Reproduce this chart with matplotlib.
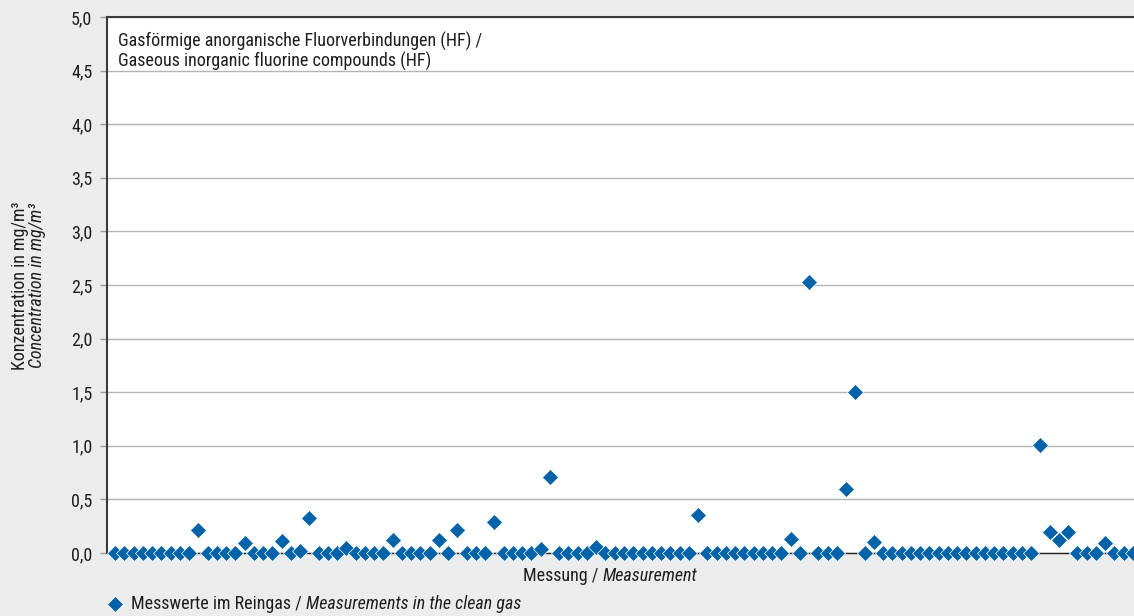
import numpy as np
import matplotlib
matplotlib.use("Agg")
import matplotlib.pyplot as plt
from matplotlib import font_manager as fm
from matplotlib.lines import Line2D

# ---------------- data ----------------
values = [
    0, 0, 0, 0, 0, 0, 0, 0, 0, 0.21,
    0, 0, 0, 0, 0.09, 0, 0, 0, 0.11, 0,
    0.02, 0.33, 0, 0, 0, 0.05, 0, 0, 0, 0,
    0.12, 0, 0, 0, 0, 0.12, 0, 0.21, 0, 0,
    0, 0.29, 0, 0, 0, 0, 0.04, 0.71, 0, 0,
    0, 0, 0.06, 0, 0, 0, 0, 0, 0, 0,
    0, 0, 0, 0.35, 0, 0, 0, 0, 0, 0,
    0, 0, 0, 0.13, 0, 2.53, 0, 0, 0, 0.60,
    1.50, 0, 0.10, 0, 0, 0, 0, 0, 0, 0,
    0, 0, 0, 0, 0, 0, 0, 0, 0, 0,
    1.01, 0.20, 0.12, 0.20, 0, 0, 0, 0.09, 0, 0,
    0,
]
y_ticks = [0.0, 0.5, 1.0, 1.5, 2.0, 2.5, 3.0, 3.5, 4.0, 4.5, 5.0]
y_tick_labels = ["0,0", "0,5", "1,0", "1,5", "2,0", "2,5", "3,0", "3,5", "4,0", "4,5", "5,0"]
title_lines = ["Gasförmige anorganische Fluorverbindungen (HF) /",
               "Gaseous inorganic fluorine compounds (HF)"]
ylabel_de = "Konzentration in mg/m³"
ylabel_en = "Concentration in mg/m³"
xlabel_de = "Messung / "
xlabel_en = "Measurement"
legend_de = "Messwerte im Reingas / "
legend_en = "Measurements in the clean gas"

# ---------------- font ----------------
available = {f.name for f in fm.fontManager.ttflist}
family = "DejaVu Sans"
for cand in ["Liberation Sans Narrow", "Roboto Condensed", "Open Sans Condensed",
             "DejaVu Sans Condensed", "Liberation Sans"]:
    if cand in available:
        family = cand
        break
plt.rcParams["font.family"] = [family, "DejaVu Sans"]

BLUE = "#0062A8"
BG = "#EBECEB"
TXT = "#1e1e1e"
FS = 13
MS = 7.8

W, H = 1134, 616
fig = plt.figure(figsize=(W / 100, H / 100), dpi=100, facecolor=BG)

ax_left, ax_right = 107, 1134
ax_top, ax_bottom = 17, 553
ax = fig.add_axes([ax_left / W, 1 - ax_bottom / H, (ax_right - ax_left) / W, (ax_bottom - ax_top) / H])
ax.set_facecolor("white")

x = np.arange(len(values))
ax.plot(x, values, linestyle="none", marker="D", markersize=MS, color=BLUE,
        markeredgecolor="white", markeredgewidth=0.5, clip_on=False, zorder=4)

step = 9.255
ax.set_xlim(-(115 - ax_left) / step, (len(values) - 1) + (ax_right - 1133) / step)
ax.set_ylim(0, 5.0)
ax.set_yticks(y_ticks)
ax.set_yticklabels(y_tick_labels, fontsize=FS, color=TXT)
ax.set_xticks([])
ax.tick_params(axis="y", length=5, width=1.0, color="#9a9a9a", pad=5.5)
ax.grid(axis="y", color="#b4b4b4", linewidth=1.0)
ax.set_axisbelow(True)

ax.spines["right"].set_visible(False)
ax.spines["left"].set_color("#3a3a3a")
ax.spines["left"].set_linewidth(1.5)
ax.spines["top"].set_color("#3a3a3a")
ax.spines["top"].set_linewidth(1.5)
ax.spines["bottom"].set_color("#222222")
ax.spines["bottom"].set_linewidth(1.0)

# title inside plot
fig.text(118 / W, 1 - 46.5 / H, title_lines[0], fontsize=FS, color=TXT, va="baseline", ha="left")
fig.text(118 / W, 1 - 66.5 / H, title_lines[1], fontsize=FS, color=TXT, va="baseline", ha="left")

# y label (two lines)
fig.text(20 / W, 1 - 286 / H, ylabel_de, rotation=90, fontsize=FS, color=TXT, ha="center", va="center")
fig.text(37 / W, 1 - 285 / H, ylabel_en, rotation=90, fontsize=FS, color=TXT, ha="center", va="center",
         style="italic")

# x label
xl1 = fig.text(0, 1 - 576 / H, xlabel_de, fontsize=FS, color=TXT, ha="left", va="center")
xl2 = fig.text(0, 1 - 576 / H, xlabel_en, fontsize=FS, color=TXT, ha="left", va="center", style="italic")

# legend
fig.add_artist(Line2D([115 / W], [1 - 604 / H], transform=fig.transFigure, linestyle="none",
                      marker="D", markersize=MS, color=BLUE, markeredgecolor="white",
                      markeredgewidth=0.5))
lg1 = fig.text(131 / W, 1 - 604 / H, legend_de, fontsize=FS, color=TXT, ha="left", va="center")
lg2 = fig.text(0, 1 - 604 / H, legend_en, fontsize=FS, color=TXT, ha="left", va="center", style="italic")

fig.canvas.draw()
r = fig.canvas.get_renderer()
w1 = xl1.get_window_extent(r).width
w2 = xl2.get_window_extent(r).width
start = 610 - (w1 + w2) / 2
xl1.set_x(start / W)
xl2.set_x((start + w1) / W)
lw1 = lg1.get_window_extent(r).width
lg2.set_x((131 + lw1) / W)

fig.savefig("out.png", dpi=100, facecolor=BG)
